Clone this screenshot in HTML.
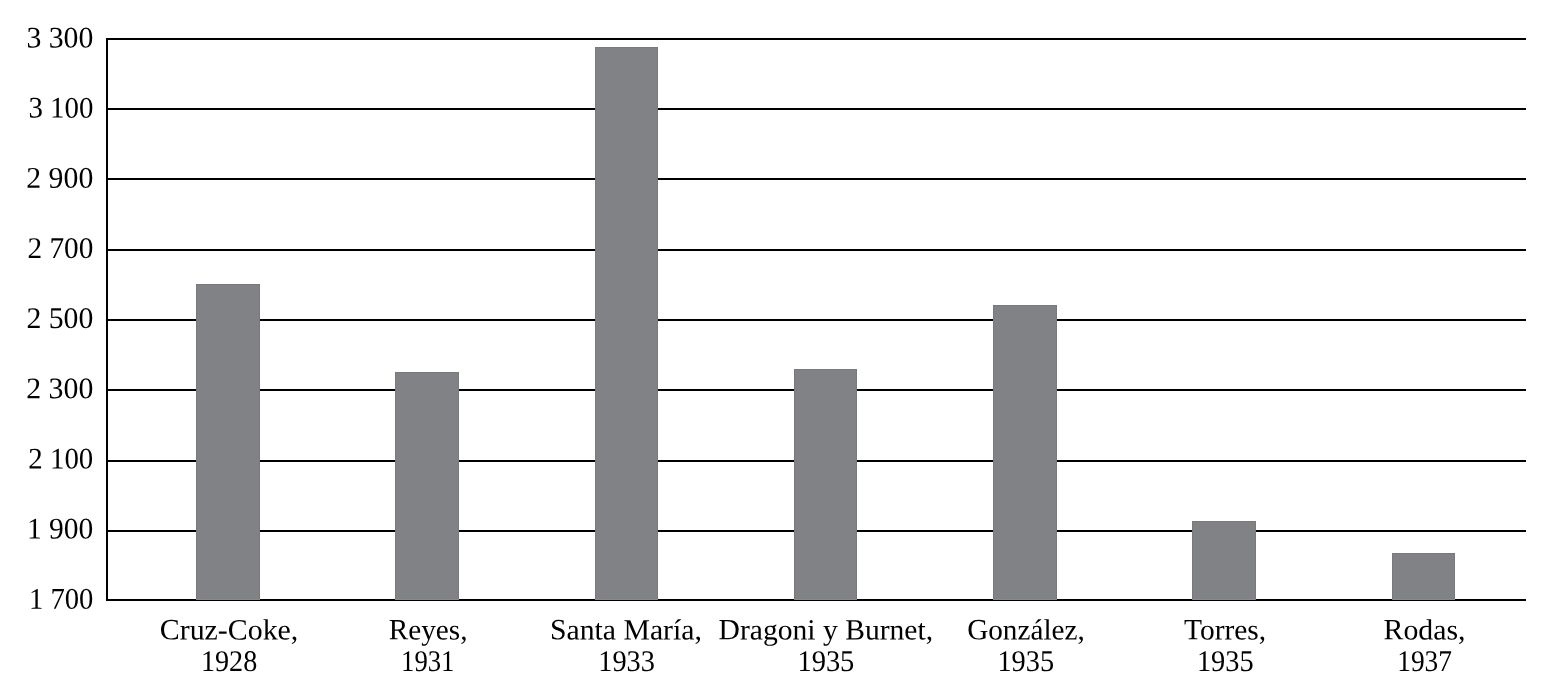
<!DOCTYPE html>
<html lang="es">
<head>
<meta charset="utf-8">
<title>Gráfico de barras</title>
<style>
html,body{margin:0;padding:0;background:#fff;}
body{width:1545px;height:691px;overflow:hidden;}
svg{display:block;}
text{font-family:"Liberation Serif","Times New Roman",serif;fill:#000;}
</style>
</head>
<body>
<svg width="1545" height="691" viewBox="0 0 1545 691">
<rect x="0" y="0" width="1545" height="691" fill="#ffffff"/>
<g fill="#000000">
<rect x="106" y="38" width="1420" height="2"/>
<rect x="106" y="108" width="1420" height="2"/>
<rect x="106" y="178" width="1420" height="2"/>
<rect x="106" y="249" width="1420" height="2"/>
<rect x="106" y="319" width="1420" height="2"/>
<rect x="106" y="389" width="1420" height="2"/>
<rect x="106" y="460" width="1420" height="2"/>
<rect x="106" y="530" width="1420" height="2"/>
<rect x="106" y="599" width="1420" height="2"/>
<rect x="106" y="38" width="2" height="563"/>
</g>
<g fill="#78797d">
<rect x="196" y="284" width="64" height="316"/>
<rect x="395" y="372" width="64" height="228"/>
<rect x="595" y="47" width="63" height="553"/>
<rect x="794" y="369" width="63" height="231"/>
<rect x="993" y="305" width="64" height="295"/>
<rect x="1192" y="521" width="64" height="79"/>
<rect x="1392" y="553" width="63" height="47"/>
</g>
<g fill="#808285">
<rect x="197" y="285" width="62" height="315"/>
<rect x="396" y="373" width="62" height="227"/>
<rect x="596" y="48" width="61" height="552"/>
<rect x="795" y="370" width="61" height="230"/>
<rect x="994" y="306" width="62" height="294"/>
<rect x="1193" y="522" width="62" height="78"/>
<rect x="1393" y="554" width="61" height="46"/>
</g>
<g fill="#898a8d">
<rect x="196" y="599" width="64" height="1"/>
<rect x="395" y="599" width="64" height="1"/>
<rect x="595" y="599" width="63" height="1"/>
<rect x="794" y="599" width="63" height="1"/>
<rect x="993" y="599" width="64" height="1"/>
<rect x="1192" y="599" width="64" height="1"/>
<rect x="1392" y="599" width="63" height="1"/>
</g>
<g>
<text transform="matrix(0.9919 0.0006 -0.0006 1 26.43 47.45)" font-size="30">3 300</text>
<text transform="matrix(0.9624 0.0006 -0.0006 1 28.45 117.61)" font-size="30">3 100</text>
<text transform="matrix(0.9931 0.0006 -0.0006 1 26.28 187.77)" font-size="30">2 900</text>
<text transform="matrix(0.9752 0.0006 -0.0006 1 27.54 257.93)" font-size="30">2 700</text>
<text transform="matrix(0.9921 0.0006 -0.0006 1 26.41 328.09)" font-size="30">2 500</text>
<text transform="matrix(0.9935 0.0006 -0.0006 1 26.28 398.25)" font-size="30">2 300</text>
<text transform="matrix(0.9623 0.0006 -0.0006 1 28.37 468.41)" font-size="30">2 100</text>
<text transform="matrix(0.9842 0.0006 -0.0006 1 26.92 538.57)" font-size="30">1 900</text>
<text transform="matrix(0.9546 0.0006 -0.0006 1 28.91 608.73)" font-size="30">1 700</text>
</g>
<g>
<text transform="matrix(1.0197 0.0006 -0.0006 1 159.81 639.37)" font-size="29.3">Cruz-Coke,</text>
<text transform="matrix(0.9991 0.0006 -0.0006 1 388.65 639.37)" font-size="29.3">Reyes,</text>
<text transform="matrix(1.0151 0.0006 -0.0006 1 549.96 639.37)" font-size="29.3">Santa María,</text>
<text transform="matrix(1.0107 0.0006 -0.0006 1 718.59 639.37)" font-size="29.3">Dragoni y Burnet,</text>
<text transform="matrix(0.9975 0.0006 -0.0006 1 967.16 639.37)" font-size="29.3">González,</text>
<text transform="matrix(1.0054 0.0006 -0.0006 1 1184.03 639.37)" font-size="29.3">Torres,</text>
<text transform="matrix(1.0179 0.0006 -0.0006 1 1383.56 639.37)" font-size="29.3">Rodas,</text>
</g>
<g>
<text transform="matrix(0.9385 0.0006 -0.0006 1 200.96 671.07)" font-size="30">1928</text>
<text transform="matrix(0.8894 0.0006 -0.0006 1 401.10 671.07)" font-size="30">1931</text>
<text transform="matrix(0.9438 0.0006 -0.0006 1 598.32 671.07)" font-size="30">1933</text>
<text transform="matrix(0.9497 0.0006 -0.0006 1 797.39 671.07)" font-size="30">1935</text>
<text transform="matrix(0.9441 0.0006 -0.0006 1 997.45 671.07)" font-size="30">1935</text>
<text transform="matrix(0.9461 0.0006 -0.0006 1 1196.88 671.07)" font-size="30">1935</text>
<text transform="matrix(0.9122 0.0006 -0.0006 1 1397.20 671.07)" font-size="30">1937</text>
</g>
</svg>
</body>
</html>
